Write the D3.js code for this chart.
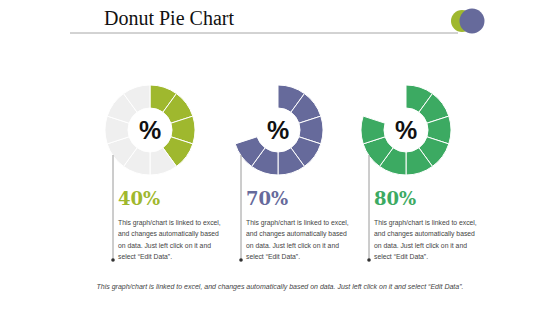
<!DOCTYPE html>
<html>
<head>
<meta charset="utf-8">
<script src="https://cdn.jsdelivr.net/npm/d3@7"></script>
<style>
  html, body { margin: 0; padding: 0; background: #fff; }
  svg { display: block; }
</style>
</head>
<body>
<div id="chart"></div>
<script>
// chart data
const percents = [40, 70, 80];
const fillColors = ['#9fb82e', '#666a9b', '#3caa62'];
const trackColors = ['#efefef', null, null];
const segmentSteps = [0, 10, 20, 30, 40, 50, 60, 70, 80, 90];
const blurb = [
    'This graph/chart is linked to excel,',
    'and changes automatically based',
    'on data. Just left click on it and',
    'select \u201cEdit Data\u201d.'
];
const footer = 'This graph/chart is linked to excel, and changes automatically based on data. Just left click on it and select \u201cEdit Data\u201d.';

const W = 560, H = 315;
const svg = d3.select('#chart').append('svg')
    .attr('width', W)
    .attr('height', H);

// header
svg.append('text')
    .attr('x', 104).attr('y', 25)
    .attr('font-family', 'Liberation Serif, serif')
    .attr('font-size', '20px')
    .attr('fill', '#111')
    .text('Donut Pie Chart');

svg.append('line')
    .attr('x1', 70).attr('x2', 458)
    .attr('y1', 33).attr('y2', 33)
    .attr('stroke', '#a6a6a6').attr('stroke-width', 1);

svg.append('circle').attr('cx', 462).attr('cy', 21).attr('r', 11).attr('fill', '#9fb82e');
svg.append('circle').attr('cx', 472).attr('cy', 21).attr('r', 12.5).attr('fill', '#666a9b');

// layout of the three donuts
const x = d3.scalePoint().domain(d3.range(percents.length)).range([150, 406]);
const angle = d3.scaleLinear().domain([0, 100]).range([0, 2 * Math.PI]);
const arc = d3.arc().innerRadius(22).outerRadius(45);
const cy = 130;

percents.forEach((p, i) => {
    const cx = x(i);
    const g = svg.append('g').attr('transform', `translate(${cx},${cy})`);

    g.selectAll('path')
        .data(segmentSteps)
        .enter()
        .filter(d => d < p || trackColors[i])
        .append('path')
        .attr('d', d => arc({startAngle: angle(d), endAngle: angle(d + 10)}))
        .attr('fill', d => d < p ? fillColors[i] : trackColors[i])
        .attr('stroke', '#fff')
        .attr('stroke-width', 1);

    g.append('text')
        .attr('text-anchor', 'middle')
        .attr('dy', '0.36em')
        .attr('font-family', 'Liberation Sans, Arial, sans-serif')
        .attr('font-weight', 'bold')
        .attr('font-size', '25px')
        .attr('fill', '#111')
        .text('%');

    // pointer line with dot
    const lx = cx - 37;
    svg.append('line')
        .attr('x1', lx).attr('x2', lx)
        .attr('y1', 155).attr('y2', 260)
        .attr('stroke', '#9a9a9a').attr('stroke-width', 1);
    svg.append('circle')
        .attr('cx', lx).attr('cy', 260).attr('r', 1.8)
        .attr('fill', '#333');

    svg.append('text')
        .attr('x', lx + 5).attr('y', 205)
        .attr('font-family', 'DejaVu Serif, serif')
        .attr('font-weight', 'bold')
        .attr('font-size', '18px')
        .attr('fill', fillColors[i])
        .text(p + '%');

    const t = svg.append('text')
        .attr('font-family', 'Liberation Sans, Arial, sans-serif')
        .attr('font-size', '6.8px')
        .attr('fill', '#444');
    blurb.forEach((line, k) => {
        t.append('tspan')
            .attr('x', lx + 5)
            .attr('y', 225 + k * 11.3)
            .text(line);
    });
});

svg.append('text')
    .attr('x', 280).attr('y', 289)
    .attr('text-anchor', 'middle')
    .attr('font-family', 'Liberation Sans, Arial, sans-serif')
    .attr('font-style', 'italic')
    .attr('font-size', '7px')
    .attr('fill', '#444')
    .text(footer);
</script>
</body>
</html>
